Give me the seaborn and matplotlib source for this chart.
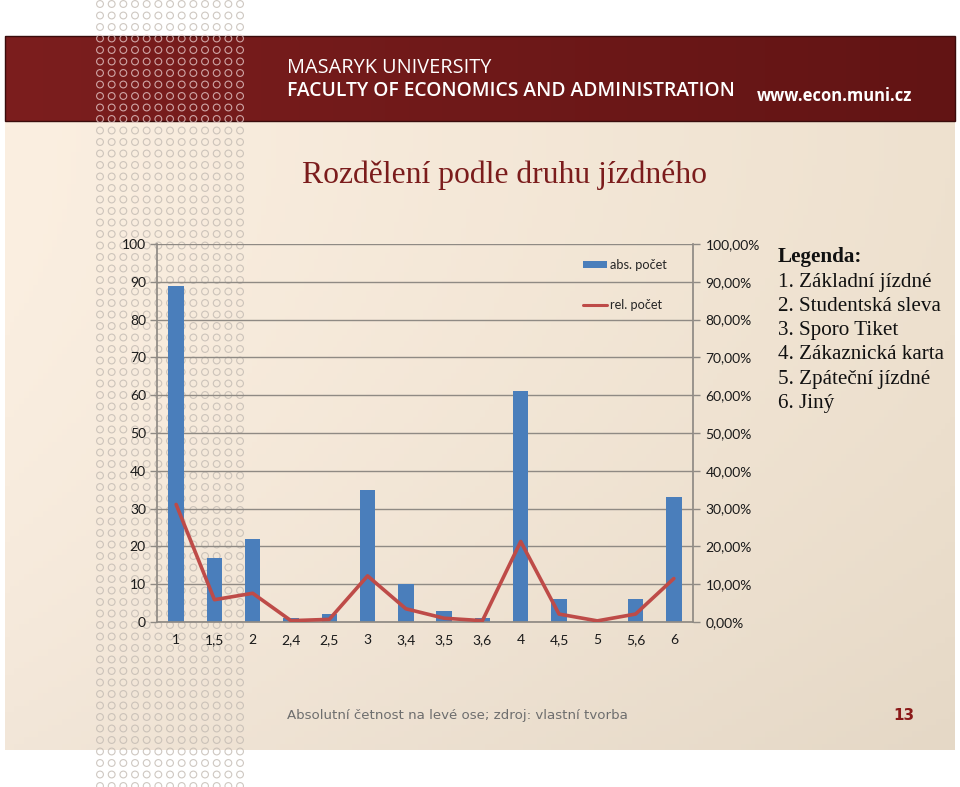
import numpy as np
import matplotlib
matplotlib.use("Agg")
import matplotlib.pyplot as plt
import seaborn as sns
from matplotlib.patches import Patch, Rectangle
from matplotlib.lines import Line2D
from matplotlib.ticker import FixedLocator, FuncFormatter

# ---------------- data ----------------
categories = ["1", "1,5", "2", "2,4", "2,5", "3", "3,4", "3,5", "3,6", "4", "4,5", "5", "5,6", "6"]
abs_count = [89, 17, 22, 1, 2, 35, 10, 3, 1, 61, 6, 0, 6, 33]
rel_count = [31.1, 5.9, 7.6, 0.35, 0.7, 12.2, 3.5, 1.0, 0.35, 21.3, 2.1, 0.3, 2.1, 11.5]
left_ticks = [0, 10, 20, 30, 40, 50, 60, 70, 80, 90, 100]
right_ticks = [0, 10, 20, 30, 40, 50, 60, 70, 80, 90, 100]
legend_lines = ["1. Základní jízdné", "2. Studentská sleva", "3. Sporo Tiket",
                "4. Zákaznická karta", "5. Zpáteční jízdné", "6. Jiný"]
title = "Rozdělení podle druhu jízdného"
footer = "Absolutní četnost na levé ose; zdroj: vlastní tvorba"
page_no = "13"

sns.set_theme(style="white")
plt.rcParams["font.family"] = ["Lato", "DejaVu Sans"]

W, H = 960, 787
fig = plt.figure(figsize=(W / 100, H / 100), dpi=100)
fig.patch.set_facecolor("white")

# ---------------- background slide ----------------
bg = fig.add_axes([0, 0, 1, 1], zorder=0)
bg.set_xlim(0, W)
bg.set_ylim(H, 0)
bg.axis("off")

# beige gradient
nx, ny = 200, 100
gx = np.linspace(0, 1, nx)[None, :, None]
gy = np.linspace(0, 1, ny)[:, None, None]
c_left = np.array([251, 239, 225]) / 255
c_right = np.array([238, 225, 207]) / 255
img = c_left * (1 - gx) + c_right * gx
img = img - 0.035 * gy ** 2
img = np.clip(img, 0, 1)
bg.imshow(img, extent=(5, 955, 750, 121), aspect="auto", origin="upper", zorder=0)

# header band
hx = np.linspace(0, 1, nx)[None, :, None]
h_left = np.array([124, 30, 30]) / 255
h_right = np.array([98, 20, 20]) / 255
himg = h_left * (1 - hx) + h_right * hx
himg = np.repeat(himg, 10, axis=0)
bg.imshow(himg, extent=(5, 955, 121, 36), aspect="auto", origin="upper", zorder=1)
bg.add_patch(Rectangle((5, 36), 950, 85, fill=False, edgecolor="#3a0c0c", lw=1, zorder=2))

# dot pattern
dxs = 100 + 11.67 * np.arange(13)
dys = 4 + 11.5 * np.arange(69)
DX, DY = np.meshgrid(dxs, dys)
DX, DY = DX.ravel(), DY.ravel()
in_head = (DY > 36) & (DY < 121)
bg.scatter(DX[~in_head], DY[~in_head], s=24, facecolors="none", edgecolors="#c2bab2",
           linewidths=0.8, alpha=0.8, zorder=3)
bg.scatter(DX[in_head], DY[in_head], s=24, facecolors="none", edgecolors="#e6c8c8",
           linewidths=0.8, alpha=0.8, zorder=3)

# header texts
bg.text(287, 68, "MASARYK UNIVERSITY", color="white", fontsize=14.3,
        family=["Open Sans", "DejaVu Sans"], va="center", ha="left", zorder=4)
bg.text(287, 91, "FACULTY OF ECONOMICS AND ADMINISTRATION", color="white", fontsize=13.9,
        family=["Open Sans", "DejaVu Sans"], weight="semibold", va="center", ha="left", zorder=4)
bg.text(757, 96, "www.econ.muni.cz", color="white", fontsize=11.9,
        family=["Open Sans", "DejaVu Sans"], weight="bold", va="center", ha="left", zorder=4)

# title
bg.text(505, 175, title, color="#7b1c1c", fontsize=22.8,
        family=["Liberation Serif", "DejaVu Serif"], va="center", ha="center", zorder=4)

# Legenda block
bg.text(778, 257, "Legenda:", color="#111111", fontsize=15.2, weight="bold",
        family=["Liberation Serif", "DejaVu Serif"], va="center", ha="left", zorder=4)
for i, s in enumerate(legend_lines):
    bg.text(778, 282 + 24.3 * i, s, color="#111111", fontsize=15.2,
            family=["Liberation Serif", "DejaVu Serif"], va="center", ha="left", zorder=4)

# footer
bg.text(287, 716, footer, color="#6e6e6e", fontsize=9.65, family=["DejaVu Sans"],
        va="center", ha="left", zorder=4)
bg.text(893, 716, page_no, color="#8b1a1a", fontsize=11, weight="bold",
        family=["DejaVu Sans"], va="center", ha="left", zorder=4)

# ---------------- chart ----------------
x0, x1, y0, y1 = 157, 693, 622, 244
ax = fig.add_axes([x0 / W, 1 - y0 / H, (x1 - x0) / W, (y0 - y1) / H], zorder=2)
ax.set_facecolor("none")

sns.barplot(x=categories, y=abs_count, order=categories, color="#4A7EBB",
            saturation=1, width=0.4, linewidth=0, edgecolor="none", ax=ax, zorder=2)

ax2 = ax.twinx()
ax2.set_facecolor("none")
sns.pointplot(x=categories, y=rel_count, order=categories, color="#BE4B48",
              markers="", linestyles="-", linewidth=2.6, ax=ax2)

n = len(categories)
for a in (ax, ax2):
    a.set_xlim(-0.5, n - 0.5)
    a.set_xlabel("")
    a.set_ylabel("")

ax.set_ylim(0, 100)
ax2.set_ylim(0, 100)
ax.yaxis.set_major_locator(FixedLocator(left_ticks))
ax2.yaxis.set_major_locator(FixedLocator(right_ticks))
ax2.yaxis.set_major_formatter(FuncFormatter(lambda v, p: f"{v:.2f}%".replace(".", ",")))

gridc = "#8f8a84"
ax.yaxis.grid(True, color=gridc, lw=1.0)
ax.xaxis.grid(False)
ax2.grid(False)
ax.set_axisbelow(True)

for a in (ax, ax2):
    for s in a.spines.values():
        s.set_visible(False)
ax.spines["left"].set_visible(True)
ax.spines["left"].set_color(gridc)
ax.spines["bottom"].set_visible(True)
ax.spines["bottom"].set_color(gridc)
ax2.spines["right"].set_visible(True)
ax2.spines["right"].set_color(gridc)

ax.set_xticks(range(n))
ax.set_xticklabels(categories)
ax.set_xticks(np.arange(-0.5, n, 1.0), minor=True)
ax.tick_params(axis="x", which="major", length=0, pad=9, labelsize=10, labelcolor="#1a1a1a")
ax.tick_params(axis="x", which="minor", length=5, width=1, color=gridc, direction="out")
ax.tick_params(axis="y", length=5, width=1, color=gridc, direction="out", pad=3,
               labelsize=10, labelcolor="#1a1a1a", left=True)
ax2.tick_params(axis="y", length=5, width=1, color=gridc, direction="out", pad=4,
                labelsize=10, labelcolor="#1a1a1a", right=True)
ax2.tick_params(axis="x", bottom=False, labelbottom=False)

handles = [Patch(facecolor="#4A7EBB", edgecolor="none"),
           Line2D([0], [0], color="#BE4B48", lw=2.2)]
fig.legend(handles, ["abs. počet", "rel. počet"], loc="upper left",
           bbox_to_anchor=(583 / W, 1 - 259 / H), frameon=False, fontsize=9.2,
           handlelength=1.9, handleheight=0.55, handletextpad=0.25, labelspacing=2.2,
           borderpad=0, borderaxespad=0)

fig.savefig("out.png", dpi=100)
